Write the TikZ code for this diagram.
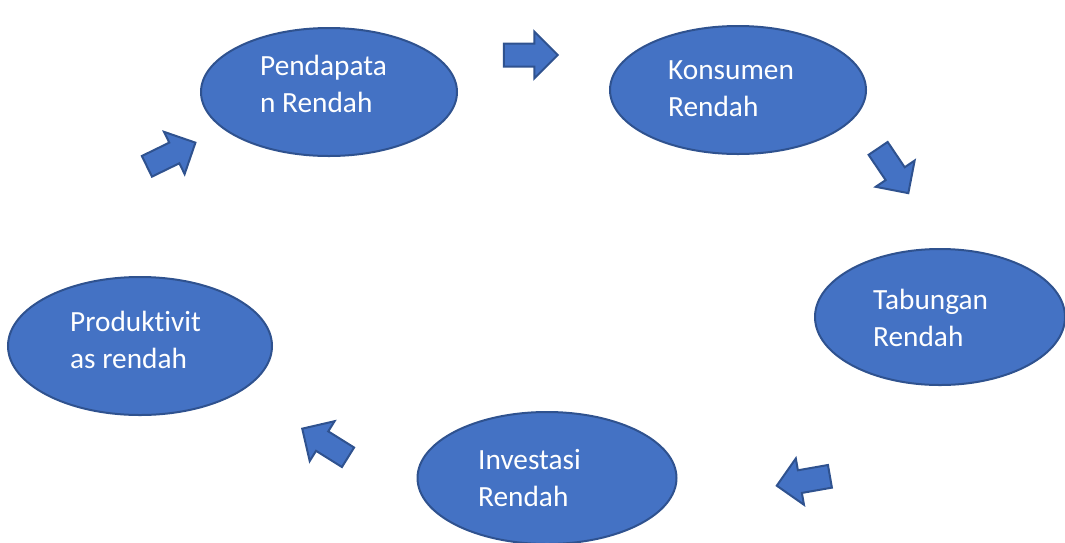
\documentclass[tikz,border=0pt]{standalone}
\usepackage{fontspec}
\setmainfont{Carlito}[RawFeature={-liga}]
\usetikzlibrary{shapes.geometric,shapes.arrows}
\definecolor{fillblue}{HTML}{4472C4}
\definecolor{edgeblue}{HTML}{2F528F}
\tikzset{
  bubble/.style={ellipse, draw=edgeblue, fill=fillblue, line width=2pt, inner sep=0pt},
  label/.style={text=white, align=left, anchor=west, inner sep=0pt, font=\fontsize{29.3}{37}\selectfont},
  blockarrow/.style={single arrow, draw=edgeblue, fill=fillblue, line width=2pt, inner xsep=0pt, inner ysep=10.5pt,
    minimum height=54pt, single arrow head extend=12pt, single arrow tip angle=90},
}
\begin{document}
\begin{tikzpicture}[x=1pt,y=-1pt]
\useasboundingbox (0,0) rectangle (1065,542);
% ellipses
\node[bubble, minimum width=256pt, minimum height=128pt] (e1) at (329,92) {};
\node[bubble, minimum width=256pt, minimum height=128pt] (e2) at (738,90) {};
\node[bubble, minimum width=250pt, minimum height=136pt] (e3) at (940,317) {};
\node[bubble, minimum width=259pt, minimum height=132pt] (e4) at (547,478) {};
\node[bubble, minimum width=264pt, minimum height=138pt] (e5) at (140,346) {};
% texts
\node[label] (t1) at (260,84) {Pendapata\\n Rendah};
\node[label] (t2) at (668,89) {Konsumen\\Rendah};
\node[label] (t3) at (873,318) {Tabungan\\Rendah};
\node[label] (t4) at (478,478) {Investasi\\Rendah};
\node[label] (t5) at (70,340) {Produktivit\\as rendah};
% block arrows
\node[blockarrow] (a1) at (525,55) {};
\node[blockarrow, rotate=26] (a2) at (166,157) {};
\node[blockarrow, rotate=-56] (a3) at (890,166) {};
\node[blockarrow, rotate=190] (a4) at (809,480) {};
\node[blockarrow, rotate=148] (a5) at (330,446) {};
\end{tikzpicture}
\end{document}
